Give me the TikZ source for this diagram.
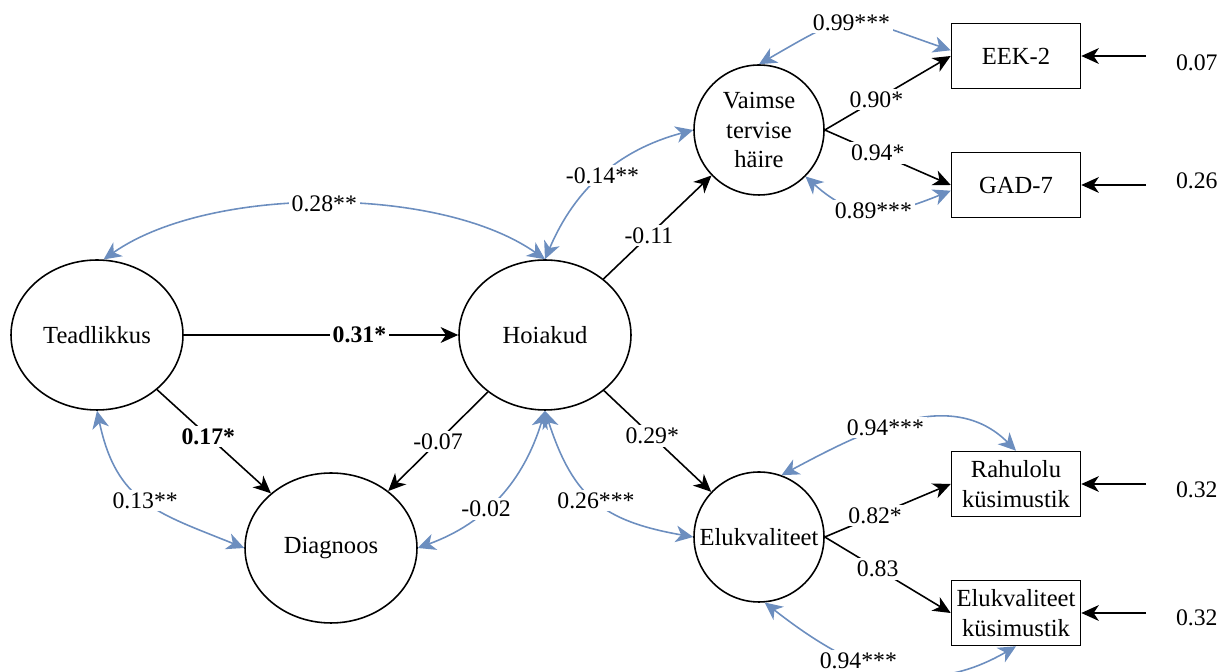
\documentclass[tikz,border=0pt]{standalone}
\usepackage{fontspec}
\setmainfont{Liberation Serif}
\usetikzlibrary{arrows.meta,shapes.geometric}

\definecolor{covblue}{HTML}{6C8EBF}

\begin{document}
\begin{tikzpicture}[x=0.02cm, y=0.02cm,
	latent/.style={ellipse, draw, line width=0.9pt, inner sep=0pt,
		minimum width=3.44cm, minimum height=3cm,
		font=\fontsize{14}{17}\selectfont},
	smalllatent/.style={circle, draw, line width=0.9pt, inner sep=0pt,
		minimum size=2.6cm, align=center,
		font=\fontsize{14}{17}\selectfont},
	indicator/.style={rectangle, draw, line width=0.9pt, inner sep=1pt,
		minimum width=2.58cm, minimum height=1.3cm, align=center,
		font=\fontsize{14}{17}\selectfont},
	regpath/.style={line width=0.9pt, -{Stealth[length=10pt, width=9pt, inset=3pt]}},
	cov/.style={covblue, line width=0.9pt,
		{Stealth[length=10pt, width=9.5pt, inset=3pt]}-{Stealth[length=10pt, width=9.5pt, inset=3pt]}},
	coef/.style={fill=white, text=black, inner sep=1.5pt,
		font=\fontsize{13.5}{16}\selectfont},
]

\def\width{1217}
\def\height{672}

\path [use as bounding box] (0,0) rectangle (\width,\height);

% LATENT VARIABLES
\node [latent] (teadlikkus) at (97,337) {Teadlikkus};
\node [latent] (hoiakud) at (545,337) {Hoiakud};
\node [latent] (diagnoos) at (331,124) {Diagnoos};
\node [smalllatent] (vaimne) at (759,542) {Vaimse\\tervise\\häire};
\node [smalllatent] (elukv) at (759,135) {Elukvaliteet};

% INDICATORS
\node [indicator] (eek) at (1016,616) {EEK-2};
\node [indicator] (gad) at (1016,487) {GAD-7};
\node [indicator] (rahulolu) at (1016,188) {Rahulolu\\küsimustik};
\node [indicator] (elukvk) at (1016,59) {Elukvaliteet\\küsimustik};

% PATHS
\draw [regpath] (teadlikkus) -- node [coef, pos=0.64] {\textbf{0.31*}} (hoiakud);
\draw [regpath] (teadlikkus) -- node [coef, pos=0.45] {\textbf{0.17*}} (diagnoos);
\draw [regpath] (hoiakud) -- node [coef, pos=0.5] {-0.07} (diagnoos);
\draw [regpath] (hoiakud) -- node [coef, pos=0.42] {-0.11} (vaimne);
\draw [regpath] (hoiakud) -- node [coef, pos=0.45] {0.29*} (elukv);
\draw [regpath] (vaimne.east) -- node [coef, pos=0.41] {0.90*} (eek.west);
\draw [regpath] (vaimne.east) -- node [coef, pos=0.42] {0.94*} (gad.west);
\draw [regpath] (elukv.east) -- node [coef, pos=0.4] {0.82*} (rahulolu.west);
\draw [regpath] (elukv.east) -- node [coef, pos=0.42] {0.83} (elukvk.west);

% COVARIANCES
\draw [cov] (teadlikkus.85) to [out=35, in=145, looseness=0.75]
	node [coef] {0.28**} (hoiakud.north);
\draw [cov] (vaimne.west) to [out=195, in=67]
	node [coef, pos=0.5] {-0.14**} (hoiakud.north);
\draw [cov] (teadlikkus.south) to [out=-78, in=158, looseness=1.2]
	node [coef] {0.13**} (diagnoos.west);
\draw [cov] (hoiakud.south) to [out=-107, in=20]
	node [coef, pos=0.6] {-0.02} (diagnoos.east);
\draw [cov] (hoiakud.south) to [out=-72, in=170, looseness=1.2]
	node [coef] {0.26***} (elukv.west);
\draw [cov] (vaimne.north) to [out=30, in=161, looseness=1.5]
	node [coef] {0.99***} (eek.175);
\draw [cov] (vaimne.-45) to [out=-42, in=-158, looseness=1.2]
	node [coef] {0.89***} (gad.185);
\draw [cov] (elukv.70) to [out=28, in=135]
	node [coef, pos=0.42] {0.94***} (rahulolu.north);
\draw [cov] (elukv.-85) to [out=-38, in=-150, looseness=1.1]
	node [coef, pos=0.38] {0.94***} (elukvk.south);

% RESIDUALS
\coordinate (rEEK) at (1146,616);
\coordinate (rGAD) at (1146,487);
\coordinate (rRahulolu) at (1146,188);
\coordinate (rElukvk) at (1146,59);
\node [coef, anchor=west] (eEEK) at (1173,609) {0.07};
\node [coef, anchor=west] (eGAD) at (1173,491) {0.26};
\node [coef, anchor=west] (eRahulolu) at (1173,182) {0.32};
\node [coef, anchor=west] (eElukvk) at (1173,54) {0.32};
\draw [regpath] (rEEK) -- (eek.east);
\draw [regpath] (rGAD) -- (gad.east);
\draw [regpath] (rRahulolu) -- (rahulolu.east);
\draw [regpath] (rElukvk) -- (elukvk.east);

\end{tikzpicture}
\end{document}
